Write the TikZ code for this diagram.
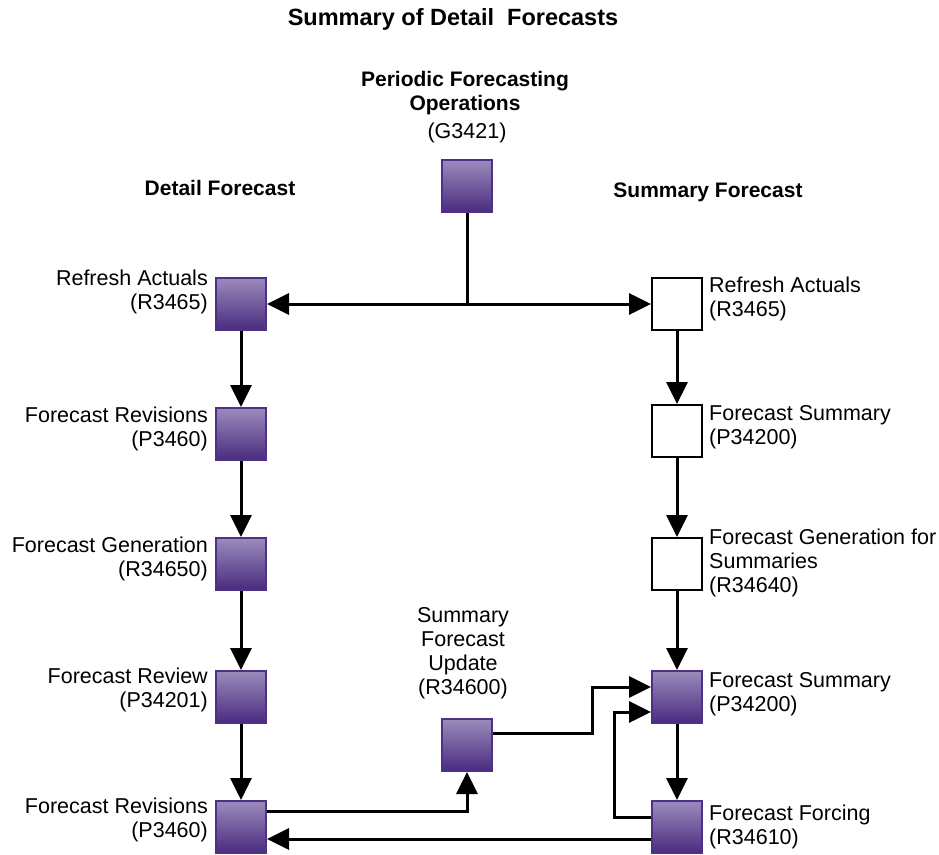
\documentclass[tikz,border=0pt]{standalone}
\usepackage{fontspec}
\setmainfont{Liberation Sans}
\usetikzlibrary{arrows.meta}
\definecolor{boxtop}{HTML}{9A8BBC}
\definecolor{boxbot}{HTML}{4A2B7E}
\definecolor{boxline}{HTML}{4F3088}
\tikzset{
  prog/.style={minimum width=50pt,minimum height=52pt,inner sep=0pt,draw=boxline,line width=2pt,top color=boxtop,bottom color=boxbot},
  blank/.style={minimum width=50pt,minimum height=52pt,inner sep=0pt,draw=black,line width=2pt,fill=white},
  lbl/.style={font=\fontsize{21.5}{24}\selectfont,inner sep=0pt},
  hdr/.style={font=\fontsize{21}{24}\selectfont\bfseries,inner sep=0pt,align=center},
  flow/.style={line width=3pt,-{Triangle[length=22pt,width=21pt]}},
  link/.style={line width=3pt}
}
\begin{document}
\begin{tikzpicture}[x=1pt,y=-1pt]
\useasboundingbox (0,0) rectangle (939,854);
% headings
\node[hdr,font=\fontsize{23.5}{26}\selectfont\bfseries] (title) at (453,19) {Summary of Detail\ \ Forecasts};
\node[hdr] (periodichdr) at (465,93) {Periodic Forecasting\\Operations};
\node[lbl] (periodiccode) at (467,133) {(G3421)};
\node[hdr] (detailhdr) at (220,188) {Detail Forecast};
\node[hdr] (summaryhdr) at (708,192) {Summary Forecast};
% programs
\node[prog] (periodic) at (467,186) {};
\node[prog] (dRefresh) at (241,304) {};
\node[prog] (dRevise) at (241,434) {};
\node[prog] (dGen) at (241,564) {};
\node[prog] (dReview) at (241,697) {};
\node[prog] (dRevise2) at (241,827) {};
\node[blank] (sRefresh) at (677,304) {};
\node[blank] (sSummary) at (677,431) {};
\node[blank] (sGen) at (677,564) {};
\node[prog] (sSummary2) at (677,697) {};
\node[prog] (sForcing) at (677,827) {};
\node[prog] (sumUpdate) at (467,745) {};
% labels, detail side
\node[lbl,anchor=east,align=right] (dRefreshlbl) at (208,292) {Refresh Actuals\\(R3465)};
\node[lbl,anchor=east,align=right] (dReviselbl) at (208,429) {Forecast Revisions\\(P3460)};
\node[lbl,anchor=east,align=right] (dGenlbl) at (208,559) {Forecast Generation\\(R34650)};
\node[lbl,anchor=east,align=right] (dReviewlbl) at (208,690) {Forecast Review\\(P34201)};
\node[lbl,anchor=east,align=right] (dRevise2lbl) at (208,820) {Forecast Revisions\\(P3460)};
% labels, summary side
\node[lbl,anchor=west,align=left] (sRefreshlbl) at (709,299) {Refresh Actuals\\(R3465)};
\node[lbl,anchor=west,align=left] (sSummarylbl) at (709,427) {Forecast Summary\\(P34200)};
\node[lbl,anchor=west,align=left] (sGenlbl) at (709,563) {Forecast Generation for\\Summaries\\(R34640)};
\node[lbl,anchor=west,align=left] (sSummary2lbl) at (709,694) {Forecast Summary\\(P34200)};
\node[lbl,anchor=west,align=left] (sForcinglbl) at (709,827) {Forecast Forcing\\(R34610)};
\node[lbl,align=center] (sumUpdatelbl) at (463,653) {Summary\\Forecast\\Update\\(R34600)};
% connectors
\coordinate (split) at (periodic |- dRefresh);
\draw[link] (periodic.south) -- (split);
\draw[flow] (split) -- (dRefresh.east);
\draw[flow] (split) -- (sRefresh.west);
\draw[flow] (dRefresh) -- (dRevise);
\draw[flow] (dRevise) -- (dGen);
\draw[flow] (dGen) -- (dReview);
\draw[flow] (dReview) -- (dRevise2);
\draw[flow] (sRefresh) -- (sSummary);
\draw[flow] (sSummary) -- (sGen);
\draw[flow] (sGen) -- (sSummary2);
\draw[flow] (sSummary2) -- (sForcing);
\draw[flow] ([yshift=16pt]dRevise2.east) -| (sumUpdate.south);
\draw[flow] ([yshift=12pt]sumUpdate.east) -| ([xshift=-59pt,yshift=10pt]sSummary2.west) -- ([yshift=10pt]sSummary2.west);
\draw[flow] ([yshift=10pt]sForcing.west) -| ([xshift=-37pt,yshift=-15pt]sSummary2.west) -- ([yshift=-15pt]sSummary2.west);
\draw[flow] ([yshift=-12pt]sForcing.west) -- ([yshift=-12pt]dRevise2.east);
\end{tikzpicture}
\end{document}
